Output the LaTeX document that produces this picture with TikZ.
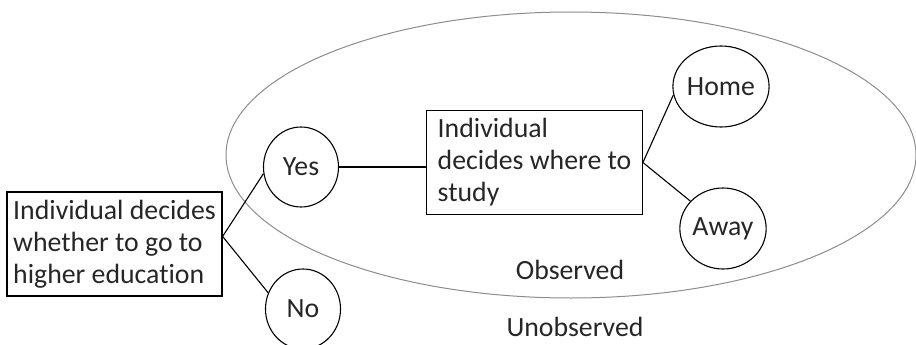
\documentclass[tikz,border=0pt]{standalone}
\usepackage{fontspec}
\setmainfont{Carlito}[Ligatures={NoCommon}]
\usetikzlibrary{shapes.geometric,calc}

\begin{document}
\begin{tikzpicture}[x=1pt, y=-1pt,
    every node/.style={font=\fontsize{27.8}{32}\selectfont, text=black!85},
    decision/.style={draw=black, line width=1.2pt, align=left, inner ysep=2pt, minimum height=104pt},
    outcome/.style={draw=black, line width=1.1pt, ellipse, inner sep=0pt, minimum width=75pt, minimum height=80pt},
    branch/.style={draw=black, line width=1.1pt}]
  \useasboundingbox (0,0) rectangle (916,345);

  % Observed region
  \draw[black!45, line width=1pt] (571,155) ellipse [x radius=345, y radius=143];

  % Decisions
  \node[decision, inner xsep=6pt, minimum width=215pt] (decide) at (114.5,244)
    {Individual decides\\whether to go to\\higher education};
  \node[decision, inner xsep=11pt, minimum width=213pt] (where) at (534.5,162.5)
    {Individual\\decides where to\\study};

  % Outcomes
  \node[outcome] (yes) at (301,167) {Yes};
  \node[outcome] (no) at (303,309) {No};
  \node[outcome, minimum width=74pt, minimum height=81pt] (home) at (721,86.5) {Home};
  \node[outcome, minimum width=76pt, minimum height=81pt] (away) at (723,228.5) {Away};

  % Branches
  \draw[branch] (decide.4) -- (yes.190);
  \draw[branch] (decide.4) -- (no.155);
  \draw[branch] (yes.east) -- (yes.east -| where.west);
  \draw[branch] (where.east) -- (home.190);
  \draw[branch] (where.east) -- (away.140);

  % Region labels
  \node (obs) at (570,270) {Observed};
  \node (unobs) at (575,327) {Unobserved};
\end{tikzpicture}
\end{document}
